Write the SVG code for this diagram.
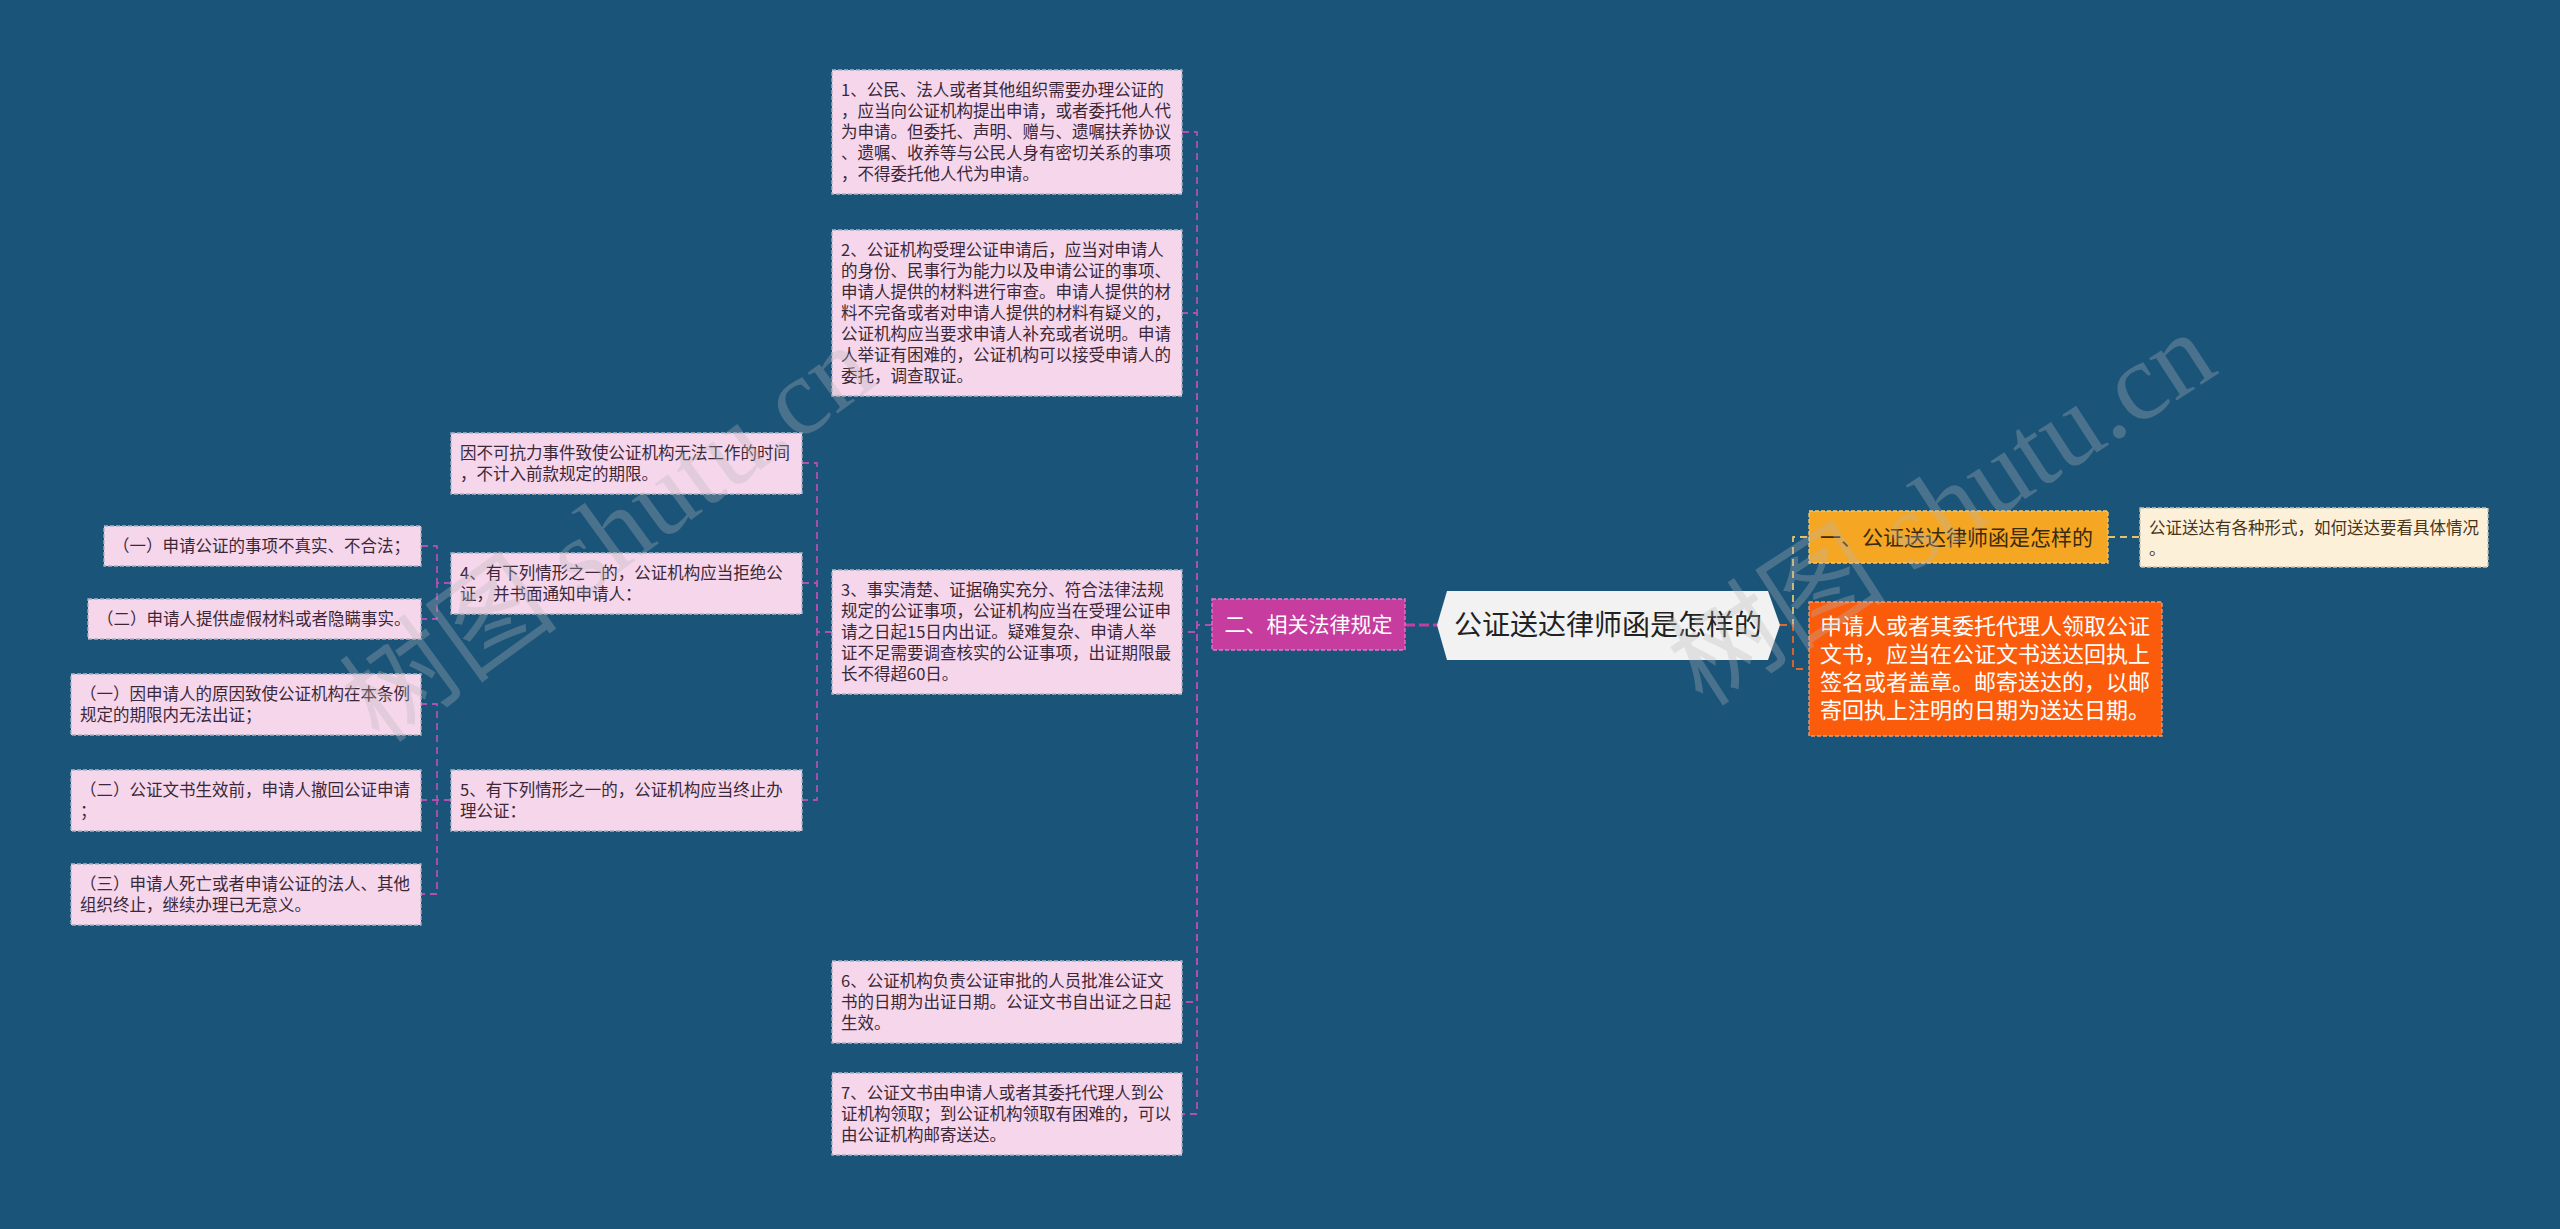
<svg xmlns="http://www.w3.org/2000/svg" width="2560" height="1229" viewBox="0 0 2560 1229">
<style>
.bg{fill:#1a5479}
.pk{fill:#f5d6eb;stroke:#a9b3c3;stroke-width:1.3;stroke-dasharray:4 2}
.pt{font-family:"Noto Sans CJK SC","Noto Sans",sans-serif;font-size:16.5px;fill:#3a2838}
.cl{fill:none;stroke:#b050b0;stroke-width:1.8;stroke-dasharray:7 5;stroke-linejoin:round}
.wm{font-family:"Liberation Serif","Noto Sans CJK SC",serif;font-size:110px;fill:#b8b8b8;opacity:0.3}
</style>
<rect class="bg" x="0" y="0" width="2560" height="1229"/>

<g id="connectors">
<path class="cl" d="M1405,625 H1437" style="stroke:#c23fa2;stroke-width:3;stroke-dasharray:10 4"/>
<path class="cl" d="M1212,625 H1197 V132 H1182"/>
<path class="cl" d="M1212,625 H1197 V313 H1182"/>
<path class="cl" d="M1212,625 H1197 V632 H1182"/>
<path class="cl" d="M1212,625 H1197 V1002 H1182"/>
<path class="cl" d="M1212,625 H1197 V1114 H1182"/>
<path class="cl" d="M832,632 H817 V463 H802"/>
<path class="cl" d="M832,632 H817 V583 H802"/>
<path class="cl" d="M832,632 H817 V800 H802"/>
<path class="cl" d="M451,583 H437 V546 H421"/>
<path class="cl" d="M451,583 H437 V619 H421"/>
<path class="cl" d="M451,800 H437 V704 H421"/>
<path class="cl" d="M451,800 H437 V800 H421"/>
<path class="cl" d="M451,800 H437 V894 H421"/>
<path class="cl" d="M1780,625 H1793 V537 H1808" style="stroke:#e6c36a"/>
<path class="cl" d="M1780,625 H1793 V669 H1808" style="stroke:#e2672c"/>
<path class="cl" d="M2108,537 H2140" style="stroke:#e6c36a"/>
</g>

<g id="center">
<polygon points="1447,591 1768,591 1780,625 1768,660 1447,660 1437,625" fill="#f2f2f2"/>
<text x="1608" y="635" text-anchor="middle" style="font-family:'Noto Sans CJK SC',sans-serif;font-size:28px;fill:#222">公证送达律师函是怎样的</text>
</g>

<g id="n-er">
<rect x="1212" y="599" width="193" height="51" fill="#c63c9f" stroke="#e27ac8" stroke-width="1.3" stroke-dasharray="4 2"/>
<text x="1308.5" y="632" text-anchor="middle" style="font-family:'Noto Sans CJK SC',sans-serif;font-size:21px;fill:#fff">二、相关法律规定</text>
</g>

<g id="n1">
<rect class="pk" x="832" y="70" width="350" height="124"/>
<text class="pt"><tspan x="841" y="96">1、公民、法人或者其他组织需要办理公证的</tspan><tspan x="841" y="117">，应当向公证机构提出申请，或者委托他人代</tspan><tspan x="841" y="138">为申请。但委托、声明、赠与、遗嘱扶养协议</tspan><tspan x="841" y="159">、遗嘱、收养等与公民人身有密切关系的事项</tspan><tspan x="841" y="180">，不得委托他人代为申请。</tspan></text>
</g>

<g id="n2">
<rect class="pk" x="832" y="230" width="350" height="166"/>
<text class="pt"><tspan x="841" y="256">2、公证机构受理公证申请后，应当对申请人</tspan><tspan x="841" y="277">的身份、民事行为能力以及申请公证的事项、</tspan><tspan x="841" y="298">申请人提供的材料进行审查。申请人提供的材</tspan><tspan x="841" y="319">料不完备或者对申请人提供的材料有疑义的，</tspan><tspan x="841" y="340">公证机构应当要求申请人补充或者说明。申请</tspan><tspan x="841" y="361">人举证有困难的，公证机构可以接受申请人的</tspan><tspan x="841" y="382">委托，调查取证。</tspan></text>
</g>

<g id="n3">
<rect class="pk" x="832" y="570" width="350" height="124"/>
<text class="pt"><tspan x="841" y="596">3、事实清楚、证据确实充分、符合法律法规</tspan><tspan x="841" y="617">规定的公证事项，公证机构应当在受理公证申</tspan><tspan x="841" y="638">请之日起15日内出证。疑难复杂、申请人举</tspan><tspan x="841" y="659">证不足需要调查核实的公证事项，出证期限最</tspan><tspan x="841" y="680">长不得超60日。</tspan></text>
</g>

<g id="n6">
<rect class="pk" x="832" y="961" width="350" height="82"/>
<text class="pt"><tspan x="841" y="987">6、公证机构负责公证审批的人员批准公证文</tspan><tspan x="841" y="1008">书的日期为出证日期。公证文书自出证之日起</tspan><tspan x="841" y="1029">生效。</tspan></text>
</g>

<g id="n7">
<rect class="pk" x="832" y="1073" width="350" height="82"/>
<text class="pt"><tspan x="841" y="1099">7、公证文书由申请人或者其委托代理人到公</tspan><tspan x="841" y="1120">证机构领取；到公证机构领取有困难的，可以</tspan><tspan x="841" y="1141">由公证机构邮寄送达。</tspan></text>
</g>

<g id="n3a">
<rect class="pk" x="451" y="433" width="351" height="61"/>
<text class="pt"><tspan x="460" y="459">因不可抗力事件致使公证机构无法工作的时间</tspan><tspan x="460" y="480">，不计入前款规定的期限。</tspan></text>
</g>

<g id="n4">
<rect class="pk" x="451" y="553" width="351" height="61"/>
<text class="pt"><tspan x="460" y="579">4、有下列情形之一的，公证机构应当拒绝公</tspan><tspan x="460" y="600">证，并书面通知申请人：</tspan></text>
</g>

<g id="n5">
<rect class="pk" x="451" y="770" width="351" height="61"/>
<text class="pt"><tspan x="460" y="796">5、有下列情形之一的，公证机构应当终止办</tspan><tspan x="460" y="817">理公证：</tspan></text>
</g>

<g id="n4a">
<rect class="pk" x="104" y="526" width="317" height="40"/>
<text class="pt" x="113" y="552">（一）申请公证的事项不真实、不合法；</text>
</g>

<g id="n4b">
<rect class="pk" x="88" y="599" width="333" height="40"/>
<text class="pt" x="97" y="625">（二）申请人提供虚假材料或者隐瞒事实。</text>
</g>

<g id="n5a">
<rect class="pk" x="71" y="674" width="350" height="61"/>
<text class="pt"><tspan x="80" y="700">（一）因申请人的原因致使公证机构在本条例</tspan><tspan x="80" y="721">规定的期限内无法出证；</tspan></text>
</g>

<g id="n5b">
<rect class="pk" x="71" y="770" width="350" height="61"/>
<text class="pt"><tspan x="80" y="796">（二）公证文书生效前，申请人撤回公证申请</tspan><tspan x="80" y="817">；</tspan></text>
</g>

<g id="n5c">
<rect class="pk" x="71" y="864" width="350" height="61"/>
<text class="pt"><tspan x="80" y="890">（三）申请人死亡或者申请公证的法人、其他</tspan><tspan x="80" y="911">组织终止，继续办理已无意义。</tspan></text>
</g>

<g id="n-yi">
<rect x="1809" y="511" width="299" height="52" fill="#f5a623" stroke="#f7c66a" stroke-width="1.3" stroke-dasharray="4 2"/>
<text x="1820" y="545" style="font-family:'Noto Sans CJK SC',sans-serif;font-size:21px;fill:#3a2a10">一、公证送达律师函是怎样的</text>
</g>

<g id="n-yi-a">
<rect x="2140" y="508" width="348" height="59" fill="#fdf0d9" stroke="#c9c2b4" stroke-width="1.3" stroke-dasharray="4 2"/>
<text style="font-family:'Noto Sans CJK SC',sans-serif;font-size:16.5px;fill:#4a3418"><tspan x="2149" y="534">公证送达有各种形式，如何送达要看具体情况</tspan><tspan x="2149" y="555">。</tspan></text>
</g>

<g id="n-or">
<rect x="1809" y="602" width="353" height="134" fill="#fa5c0c" stroke="#f79a6a" stroke-width="1.3" stroke-dasharray="4 2"/>
<text style="font-family:'Noto Sans CJK SC',sans-serif;font-size:22px;fill:#fff"><tspan x="1820" y="634">申请人或者其委托代理人领取公证</tspan><tspan x="1820" y="662">文书，应当在公证文书送达回执上</tspan><tspan x="1820" y="690">签名或者盖章。邮寄送达的，以邮</tspan><tspan x="1820" y="718">寄回执上注明的日期为送达日期。</tspan></text>
</g>

<g id="watermark">
<text class="wm" x="612" y="570" text-anchor="middle" transform="rotate(-36 612 539)">树图 shutu.cn</text>
<text class="wm" x="1945" y="545" text-anchor="middle" transform="rotate(-33 1945 514)">树图 shutu.cn</text>
</g>
</svg>
